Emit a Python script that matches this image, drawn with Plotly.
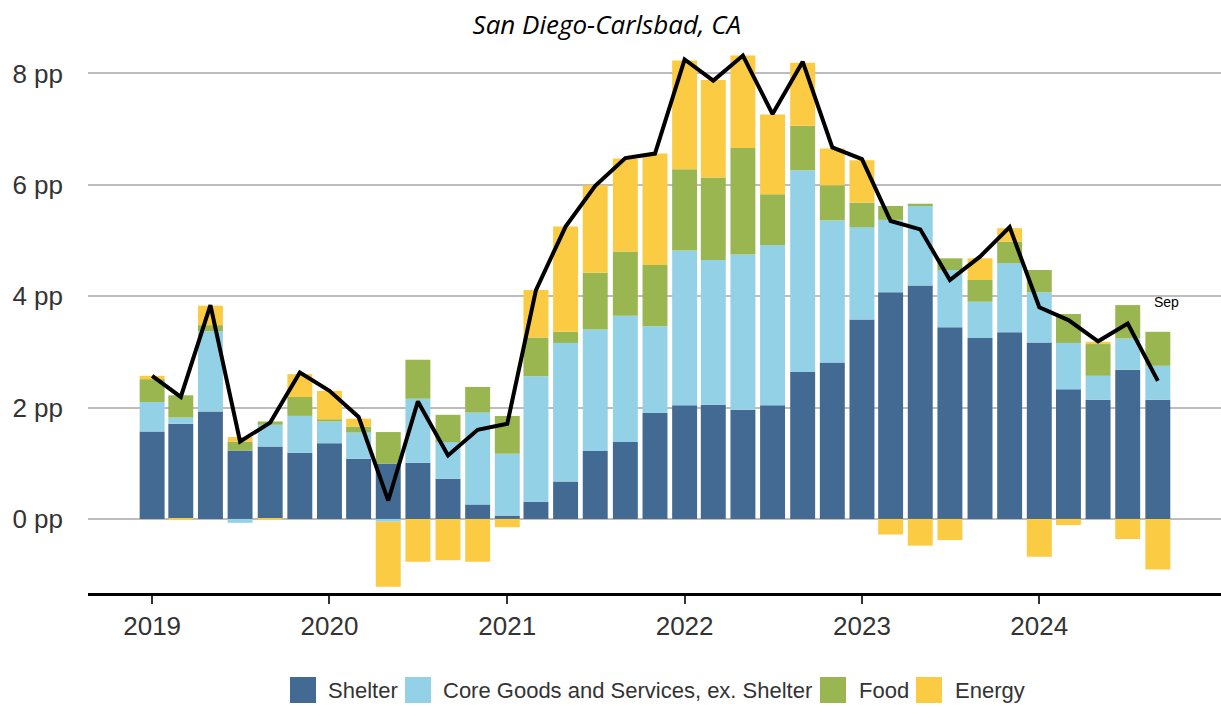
import plotly.graph_objects as go

dates = [
    "2019-01-01", "2019-03-01", "2019-05-01", "2019-07-01", "2019-09-01", "2019-11-01",
    "2020-01-01", "2020-03-01", "2020-05-01", "2020-07-01", "2020-09-01", "2020-11-01",
    "2021-01-01", "2021-03-01", "2021-05-01", "2021-07-01", "2021-09-01", "2021-11-01",
    "2022-01-01", "2022-03-01", "2022-05-01", "2022-07-01", "2022-09-01", "2022-11-01",
    "2023-01-01", "2023-03-01", "2023-05-01", "2023-07-01", "2023-09-01", "2023-11-01",
    "2024-01-01", "2024-03-01", "2024-05-01", "2024-07-01", "2024-09-01",
]

shelter = [1.57, 1.71, 1.93, 1.23, 1.30, 1.19,
           1.36, 1.08, 0.99, 1.01, 0.72, 0.26,
           0.06, 0.31, 0.67, 1.22, 1.38, 1.90,
           2.04, 2.05, 1.96, 2.04, 2.64, 2.81,
           3.58, 4.07, 4.19, 3.44, 3.25, 3.35,
           3.17, 2.33, 2.14, 2.68, 2.14]

core = [0.53, 0.11, 1.44, -0.07, 0.39, 0.66,
        0.39, 0.47, -0.05, 1.15, 0.66, 1.65,
        1.11, 2.25, 2.49, 2.18, 2.27, 1.56,
        2.78, 2.60, 2.79, 2.88, 3.62, 2.55,
        1.66, 1.30, 1.44, 1.03, 0.65, 1.24,
        0.90, 0.83, 0.43, 0.56, 0.61]

food = [0.41, 0.40, 0.11, 0.16, 0.06, 0.34,
        0.04, 0.11, 0.57, 0.70, 0.49, 0.46,
        0.68, 0.70, 0.20, 1.02, 1.15, 1.10,
        1.46, 1.48, 1.91, 0.91, 0.80, 0.63,
        0.44, 0.25, 0.03, 0.21, 0.39, 0.39,
        0.40, 0.52, 0.57, 0.60, 0.61]

energy = [0.06, -0.02, 0.35, 0.08, -0.01, 0.41,
          0.51, 0.14, -1.17, -0.77, -0.74, -0.77,
          -0.15, 0.85, 1.89, 1.57, 1.67, 2.00,
          1.95, 1.75, 1.66, 1.43, 1.13, 0.66,
          0.76, -0.28, -0.48, -0.38, 0.39, 0.24,
          -0.68, -0.11, 0.04, -0.36, -0.91]

total = [2.57, 2.19, 3.84, 1.39, 1.73, 2.63,
         2.30, 1.83, 0.33, 2.11, 1.14, 1.60,
         1.71, 4.11, 5.25, 5.98, 6.48, 6.56,
         8.25, 7.87, 8.32, 7.27, 8.21, 6.67,
         6.46, 5.35, 5.20, 4.29, 4.71, 5.24,
         3.80, 3.57, 3.19, 3.51, 2.48]

series_names = ["Shelter", "Core Goods and Services, ex. Shelter", "Food", "Energy"]
series_values = [shelter, core, food, energy]
series_colors = ["#426A93", "#93D1E6", "#99B650", "#FBCB44"]

last_label = "Sep"
title_text = "San Diego-Carlsbad, CA"
ytick_vals = [0, 2, 4, 6, 8]
ytick_text = ["0 pp", "2 pp", "4 pp", "6 pp", "8 pp"]
xtick_vals = ["2019-01-01", "2020-01-01", "2021-01-01", "2022-01-01", "2023-01-01", "2024-01-01"]
xtick_text = ["2019", "2020", "2021", "2022", "2023", "2024"]

# figure geometry (pixels)
W, H = 1221, 705
ML, MR, MT, MB = 88, 0, 45, 112
PW, PH = W - ML - MR, H - MT - MB


def px_x(px):
    return (px - ML) / PW


def px_y(py):
    return (H - MB - py) / PH


fig = go.Figure()
for name, vals, color in zip(series_names, series_values, series_colors):
    fig.add_trace(go.Bar(x=dates, y=vals, name=name, showlegend=False,
                         marker=dict(color=color, line=dict(width=0))))

fig.add_trace(go.Scatter(x=dates, y=total, mode="lines", showlegend=False,
                         line=dict(color="black", width=4)))

top_last = shelter[-1] + max(core[-1], 0) + max(food[-1], 0) + max(energy[-1], 0)
fig.add_annotation(x=dates[-1], y=top_last, text=last_label, showarrow=False,
                   xanchor="left", yanchor="bottom", xshift=-6, yshift=20,
                   font=dict(family="Liberation Sans, Arial", size=14, color="black"))

# custom legend with large square swatches
legend_swatch_left = [290, 405, 820, 916]
legend_text_left = [326, 441, 857, 953]
legend_yc = 690
sw = 26
for name, color, sx, tx in zip(series_names, series_colors, legend_swatch_left, legend_text_left):
    fig.add_shape(type="rect", xref="paper", yref="paper",
                  x0=px_x(sx), x1=px_x(sx + sw),
                  y0=px_y(legend_yc + sw / 2), y1=px_y(legend_yc - sw / 2),
                  fillcolor=color, line=dict(width=0), layer="above")
    fig.add_annotation(xref="paper", yref="paper", x=px_x(tx), y=px_y(legend_yc),
                       text=name, showarrow=False, xanchor="left", yanchor="middle",
                       font=dict(family="Liberation Sans, Arial", size=22, color="#333333"))

fig.update_layout(
    width=W, height=H,
    barmode="relative", bargap=0.13,
    plot_bgcolor="white", paper_bgcolor="white",
    margin=dict(l=ML, r=MR, t=MT, b=MB),
    showlegend=False,
    title=dict(text="<i>" + title_text + "</i>", x=0.497, xanchor="center",
               y=0.965, yanchor="middle",
               font=dict(family="Open Sans", size=26, color="black")),
    xaxis=dict(type="date", range=["2018-08-22", "2025-01-09"],
               tickvals=xtick_vals, ticktext=xtick_text,
               showgrid=False, showline=True, linecolor="black", linewidth=3,
               ticks="outside", ticklen=8, tickwidth=1.5, tickcolor="#333333",
               tickfont=dict(family="Liberation Sans, Arial", size=26, color="#333333"),
               zeroline=False),
    yaxis=dict(range=[-1.33, 8.51], tickvals=ytick_vals, ticktext=ytick_text,
               showgrid=True, gridcolor="#BDBDBD", gridwidth=1.5,
               zeroline=False, showline=False, ticks="",
               ticklabelstandoff=24,
               tickfont=dict(family="Liberation Sans, Arial", size=26, color="#333333")),
)

fig.write_html("out.html", config={"displayModeBar": False},
               post_script="document.body.style.margin='0px';document.body.style.padding='0px';")
